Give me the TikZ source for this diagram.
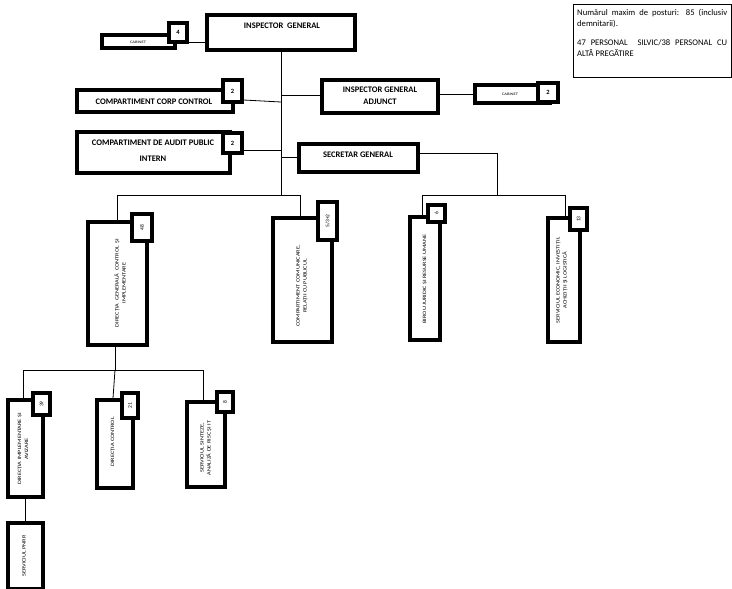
\documentclass[tikz,border=0pt]{standalone}
\usepackage{fontspec}
\setmainfont{Carlito}
\newfontfamily\widefont[FakeStretch=1.25]{Carlito}
\usetikzlibrary{shadows}
\begin{document}
\begin{tikzpicture}[x=1pt,y=-1pt,
  box/.style={draw=black, line width=3.3pt, fill=white, inner sep=0pt,
    drop shadow={shadow xshift=1.4pt, shadow yshift=-1.4pt, fill=black, opacity=1}},
  badge/.style={draw=black, line width=3.3pt, fill=white, inner sep=0pt,
    font=\bfseries\fontsize{6.5}{7}\selectfont},
  vbadge/.style={badge, font=\fontsize{5.5}{6}\selectfont},
  htxt/.style={font=\bfseries\fontsize{8.5}{10}\selectfont, inner sep=0pt, align=center},
  vtxt/.style={font=\widefont\fontsize{5}{7}\selectfont, inner sep=0pt, align=center, rotate=90},
  ctxt/.style={font=\widefont\fontsize{3.6}{4}\selectfont, inner sep=0pt},
  conn/.style={draw=black, line width=0.8pt}]
\useasboundingbox (0,0) rectangle (732,589);

% note box
\node[draw=black, line width=0.5pt, minimum width=158pt, minimum height=73pt, inner sep=0pt] (note) at (652,40.5) {};
\node[font=\fontsize{8.6}{11.5}\selectfont, text width=150pt, align=justify, inner sep=0pt, anchor=north west] (notet) at (577,9)
 {Numărul maxim de posturi: 85 (inclusiv\linebreak \mbox{demnitarii).}\\[7pt]
  47 PERSONAL\ \ SILVIC/38 PERSONAL CU\linebreak ALTĂ PREGĂTIRE};

% top level
\node[box, minimum width=148pt, minimum height=35pt] (ig) at (281,32.5) {};
\node[htxt] (igt) at (282,26) {INSPECTOR\ \ GENERAL};
\node[box, minimum width=73pt, minimum height=13pt] (cab1) at (138.5,41.5) {};
\node[ctxt] (cab1t) at (138,42) {CABINET};
\node[badge, minimum width=18pt, minimum height=19pt] (b4) at (178,32.5) {4};

\node[box, minimum width=156pt, minimum height=22pt] (ccc) at (155,101) {};
\node[htxt] (ccct) at (154,102) {COMPARTIMENT CORP CONTROL};
\node[badge, minimum width=19pt, minimum height=22pt] (bccc) at (232.5,91) {2};

\node[box, minimum width=116pt, minimum height=33pt] (iga) at (380,96.5) {};
\node[htxt] (igat) at (380,96) {INSPECTOR GENERAL\\[2pt]ADJUNCT};
\node[box, minimum width=75pt, minimum height=18pt] (cab2) at (512.5,94) {};
\node[ctxt] (cab2t) at (510,94) {CABINET};
\node[badge, minimum width=20pt, minimum height=19pt] (bcab2) at (548,92.5) {2};

\node[box, minimum width=153pt, minimum height=41pt] (aud) at (153.5,152.5) {};
\node[htxt, font=\bfseries\fontsize{8.5}{16}\selectfont] (audt) at (153,151) {COMPARTIMENT DE AUDIT PUBLIC\\INTERN};
\node[badge, minimum width=19pt, minimum height=20pt] (baud) at (232.5,143) {2};

\node[box, minimum width=119pt, minimum height=28pt] (sg) at (358.5,158) {};
\node[htxt] (sgt) at (358,155) {SECRETAR GENERAL};

% second level
\node[box, minimum width=59pt, minimum height=123pt] (dgci) at (117.5,283.5) {};
\node[vtxt] (dgcit) at (120,283) {DIRECȚIA\ \ GENERALĂ\ \ CONTROL\ \ ȘI\\IMPLEMENTARE};
\node[vbadge, minimum width=20pt, minimum height=27pt] (b48) at (142,227.5) {\rotatebox{90}{48}};

\node[box, minimum width=59pt, minimum height=124pt] (cc) at (302.5,280) {};
\node[vtxt] (cct) at (302,286) {COMPARTIMENT COMUNICARE,\\RELAȚII CU PUBLICUL};
\node[vbadge, minimum width=19pt, minimum height=38pt] (bcc) at (327.5,221) {\rotatebox{90}{5/3+2}};

\node[box, minimum width=30pt, minimum height=123pt] (bj) at (425,278.5) {};
\node[vtxt] (bjt) at (425,279) {BIROU JURIDIC ȘI RESURSE UMANE};
\node[vbadge, minimum width=17pt, minimum height=17pt] (b6) at (436.5,213.5) {\rotatebox{90}{6}};

\node[box, minimum width=32pt, minimum height=124pt] (se) at (564,280) {};
\node[vtxt] (set) at (562,280) {SERVICIUL ECONOMIC, INVESTIȚII,\\ACHIZIȚII ȘI LOGISTICĂ};
\node[vbadge, minimum width=17pt, minimum height=22pt] (b13) at (578.5,219) {\rotatebox{90}{13}};

% third level
\node[box, minimum width=35pt, minimum height=97pt] (dia) at (25.5,448.5) {};
\node[vtxt] (diat) at (23,449) {DIRECȚIA IMPLEMENTARE ȘI\\AVIZARE};
\node[vbadge, minimum width=17pt, minimum height=22pt] (b39) at (41.5,404) {\rotatebox{90}{39}};

\node[box, minimum width=36pt, minimum height=88pt] (dc) at (115,444) {};
\node[vtxt] (dct) at (113,442) {DIRECȚIA CONTROL};
\node[vbadge, minimum width=16pt, minimum height=25pt] (b21) at (130,405.5) {\rotatebox{90}{21}};

\node[box, minimum width=38pt, minimum height=85pt] (ss) at (206,444.5) {};
\node[vtxt] (sst) at (206,448) {SERVICIUL SINTEZE,\\ANALIZĂ DE RISC ȘI IT};
\node[vbadge, minimum width=16pt, minimum height=20pt] (b8) at (225,402) {\rotatebox{90}{8}};

\node[box, minimum width=35pt, minimum height=66pt] (pnrr) at (25.5,556) {};
\node[vtxt] (pnrrt) at (24,556) {SERVICIUL PNRR};

% junction coordinates
\coordinate (t1) at (281,195);
\coordinate (jccc) at (281,102);
\coordinate (jiga) at (281,95);
\coordinate (jaud) at (281,150);
\coordinate (jsg) at (281,157);
\coordinate (sgr) at (497,153);
\coordinate (sgd) at (497,195);
\coordinate (hl1) at (117,195);
\coordinate (hr1) at (300,195);
\coordinate (hl2) at (422,195);
\coordinate (hr2) at (565,195);
\coordinate (d1) at (115,370);
\coordinate (hl3) at (23,370);
\coordinate (hr3) at (203,370);

% connectors
\draw[conn] (ig.south -| t1) -- (t1);
\draw[conn] (b4.east |- 0,42) -- (ig.west |- 0,42);
\draw[conn] (bccc.east |- 0,100) -- (jccc);
\draw[conn] (jiga) -- (iga.west |- jiga);
\draw[conn] (iga.east |- 0,94) -- (cab2.west |- 0,94);
\draw[conn] (baud.east |- jaud) -- (jaud);
\draw[conn] (jsg) -- (sg.west |- jsg);
\draw[conn] (sg.east |- sgr) -- (sgr) -- (sgd);
\draw[conn] (hl2) -- (hr2);
\draw[conn] (hl2) -- (bj.north -| hl2);
\draw[conn] (hr2) -- (se.north -| hr2);
\draw[conn] (hl1) -- (hr1);
\draw[conn] (hl1) -- (dgci.north -| hl1);
\draw[conn] (hr1) -- (cc.north -| hr1);
\draw[conn] (dgci.south -| d1) -- (d1);
\draw[conn] (hl3) -- (hr3);
\draw[conn] (hl3) -- (dia.north -| hl3);
\draw[conn] (d1) -- (dc.north -| 113,0);
\draw[conn] (hr3) -- (ss.north -| hr3);
\draw[conn] (dia.south -| 25,0) -- (pnrr.north -| 25,0);
\end{tikzpicture}
\end{document}
